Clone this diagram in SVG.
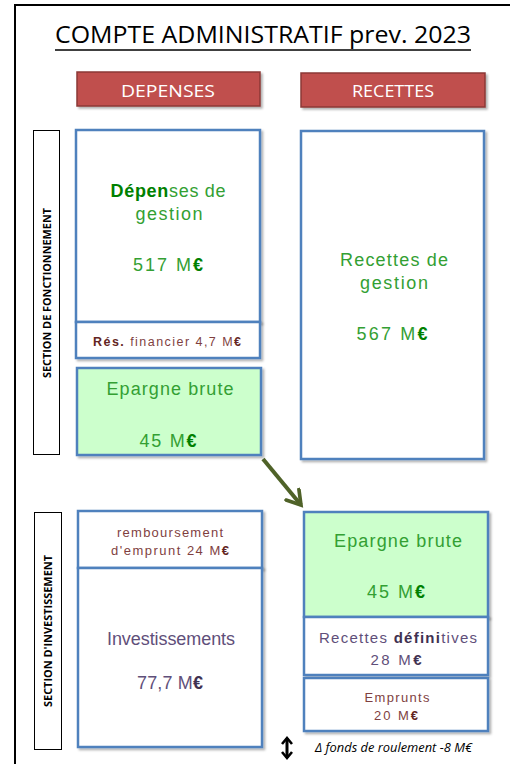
<svg xmlns="http://www.w3.org/2000/svg" width="510" height="764" viewBox="0 0 510 764">
  <defs>
    <filter id="shadow" x="-10%" y="-10%" width="130%" height="130%">
      <feDropShadow dx="2" dy="2" stdDeviation="1.2" flood-color="#000" flood-opacity="0.3"/>
    </filter>
    <marker id="chevron" viewBox="0 0 12 12" refX="9" refY="6" markerWidth="5" markerHeight="5" orient="auto" markerUnits="strokeWidth">
      <path d="M1,1 L9,6 L1,11" fill="none" stroke="#4F6228" stroke-width="2.2" stroke-linecap="round" stroke-linejoin="miter"/>
    </marker>
    <marker id="dblEnd" viewBox="0 0 12 12" refX="9" refY="6" markerWidth="12" markerHeight="12" orient="auto-start-reverse" markerUnits="userSpaceOnUse">
      <path d="M3,1 L9,6 L3,11" fill="none" stroke="#000" stroke-width="2.6" stroke-linejoin="miter"/>
    </marker>
  </defs>
  <style>
    .frame { fill: none; stroke: #000; stroke-width: 2; }
    .head { fill: #C0504D; stroke: #8C3836; stroke-width: 1.5; filter: url(#shadow); }
    .head-t { font-family: "Open Sans", "Liberation Sans", sans-serif; font-size: 17px; fill: #fff; text-anchor: middle; }
    .sec { fill: #fff; stroke: #000; stroke-width: 1; }
    .sec-t { font-family: "Open Sans", "Liberation Sans", sans-serif; font-size: 10px; font-weight: bold; fill: #000; text-anchor: middle; }
    .box { fill: #fff; stroke: #4F81BD; stroke-width: 2.5; filter: url(#shadow); }
    .green { fill: #CCFFCC; }
    .t { font-family: "Liberation Sans", Arial, sans-serif; text-anchor: middle; }
    .g { fill: #33A033; }
    .gb { fill: #008000; font-weight: bold; }
    .m { fill: #7F3F3F; }
    .mb { fill: #632523; font-weight: bold; }
    .p { fill: #5F4F7A; }
    .pb { fill: #3F3151; font-weight: bold; }
    .big { font-size: 18px; }
    .mid { font-size: 15px; }
    .sm { font-size: 13px; }
  </style>

  <!-- page frame -->
  <path class="frame" d="M15,770 L15,5 L520,5"/>

  <!-- title -->
  <g id="title">
    <text x="263" y="43" font-family="Open Sans, Liberation Sans, sans-serif" font-size="23" text-anchor="middle" textLength="416" lengthAdjust="spacingAndGlyphs">COMPTE ADMINISTRATIF prev. 2023</text>
    <line x1="55" y1="50" x2="471" y2="50" stroke="#000" stroke-width="1.6"/>
  </g>

  <!-- column headers -->
  <g id="hdr-depenses">
    <rect class="head" x="77" y="72" width="183" height="34"/>
    <text class="head-t" x="168" y="97" textLength="94" lengthAdjust="spacingAndGlyphs">DEPENSES</text>
  </g>
  <g id="hdr-recettes">
    <rect class="head" x="301" y="73" width="184" height="34"/>
    <text class="head-t" x="393" y="97" textLength="82" lengthAdjust="spacingAndGlyphs">RECETTES</text>
  </g>

  <!-- section labels -->
  <g id="sec-fonctionnement">
    <rect class="sec" x="33.5" y="130.5" width="26" height="324"/>
    <text class="sec-t" transform="translate(50.5,293) rotate(-90)" textLength="170" lengthAdjust="spacingAndGlyphs">SECTION DE FONCTIONNEMENT</text>
  </g>
  <g id="sec-investissement">
    <rect class="sec" x="34.5" y="512.5" width="27" height="237"/>
    <text class="sec-t" transform="translate(51.5,631) rotate(-90)" textLength="152" lengthAdjust="spacingAndGlyphs">SECTION D'INVESTISSEMENT</text>
  </g>

  <!-- fonctionnement : dépenses -->
  <g id="dep-gestion">
    <rect class="box" x="76" y="130" width="184" height="192"/>
    <text class="t big g" x="168" y="197" textLength="115" lengthAdjust="spacing"><tspan class="gb">Dépen</tspan>ses de</text>
    <text class="t big g" x="169" y="220" textLength="67" lengthAdjust="spacing">gestion</text>
    <text class="t big g" x="168" y="271" textLength="70" lengthAdjust="spacing">517 M<tspan class="gb">€</tspan></text>
  </g>
  <g id="res-financier">
    <rect class="box" x="76" y="322" width="184" height="36"/>
    <text class="t m" x="167" y="346" font-size="12.5" textLength="148" lengthAdjust="spacing"><tspan class="mb">Rés.</tspan> financier  4,7 M<tspan class="mb">€</tspan></text>
  </g>
  <g id="epargne-dep">
    <rect class="box green" x="77" y="368" width="184" height="87"/>
    <text class="t big g" x="170" y="395" textLength="127" lengthAdjust="spacing">Epargne brute</text>
    <text class="t big g" x="168" y="447" textLength="57" lengthAdjust="spacing">45 M<tspan class="gb">€</tspan></text>
  </g>

  <!-- fonctionnement : recettes -->
  <g id="rec-gestion">
    <rect class="box" x="301" y="131" width="183" height="328"/>
    <text class="t big g" x="394" y="266" textLength="108" lengthAdjust="spacing">Recettes de</text>
    <text class="t big g" x="394" y="289" textLength="68" lengthAdjust="spacing">gestion</text>
    <text class="t big g" x="392" y="340" textLength="71" lengthAdjust="spacing">567 M<tspan class="gb">€</tspan></text>
  </g>

  <!-- investissement : dépenses -->
  <g id="remboursement">
    <rect class="box" x="78" y="511" width="184" height="57"/>
    <text class="t sm m" x="170" y="537" textLength="106" lengthAdjust="spacing">remboursement</text>
    <text class="t sm m" x="170" y="555" textLength="118" lengthAdjust="spacing">d'emprunt 24 M<tspan class="mb">€</tspan></text>
  </g>
  <g id="investissements">
    <rect class="box" x="78" y="568" width="184" height="179"/>
    <text class="t big p" x="171" y="645" textLength="128" lengthAdjust="spacing">Investissements</text>
    <text class="t big p" x="170" y="689" textLength="66" lengthAdjust="spacing">77,7 M<tspan class="pb">€</tspan></text>
  </g>

  <!-- investissement : recettes -->
  <g id="epargne-rec">
    <rect class="box green" x="304" y="512" width="184" height="105"/>
    <text class="t big g" x="398" y="547" textLength="128" lengthAdjust="spacing">Epargne brute</text>
    <text class="t big g" x="396" y="598" textLength="58" lengthAdjust="spacing">45 M<tspan class="gb">€</tspan></text>
  </g>
  <g id="rec-definitives">
    <rect class="box" x="304" y="617" width="184" height="58"/>
    <text class="t mid p" x="398" y="643" textLength="158" lengthAdjust="spacing">Recettes <tspan class="pb">défini</tspan>tives</text>
    <text class="t mid p" x="396" y="665" textLength="51" lengthAdjust="spacing">28 M<tspan class="pb">€</tspan></text>
  </g>
  <g id="emprunts">
    <rect class="box" x="304" y="678" width="184" height="53"/>
    <text class="t sm m" x="397" y="702" textLength="65" lengthAdjust="spacing">Emprunts</text>
    <text class="t sm m" x="396" y="720" textLength="44" lengthAdjust="spacing">20 M<tspan class="mb">€</tspan></text>
  </g>

  <!-- connectors -->
  <g id="connectors">
    <line x1="263" y1="459" x2="301" y2="505" stroke="#4F6228" stroke-width="4" marker-end="url(#chevron)"/>
    <line x1="287" y1="738" x2="287" y2="758" stroke="#000" stroke-width="3" marker-start="url(#dblEnd)" marker-end="url(#dblEnd)"/>
  </g>

  <!-- note -->
  <g id="note">
    <text x="315" y="752" font-family="Open Sans, Liberation Sans, sans-serif" font-size="13" font-style="italic" textLength="157" lengthAdjust="spacingAndGlyphs">Δ fonds de roulement -8 M€</text>
  </g>
</svg>
